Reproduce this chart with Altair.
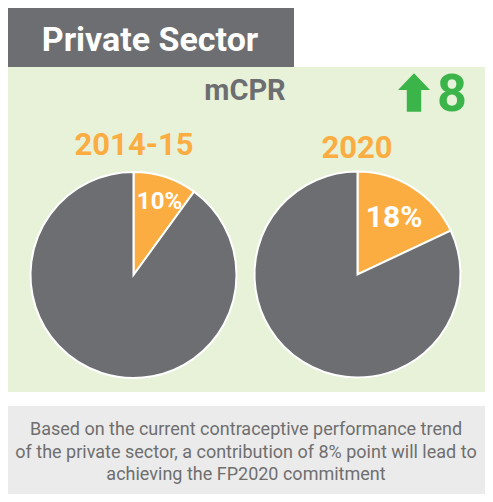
import altair as alt
import pandas as pd

# ---- data ----
years = ["2014-15", "2020"]
private_share = [10, 18]
segments = ["Private sector", "Other"]
title_text = "Private Sector"
indicator = "mCPR"
change = 8
note_lines = [
    "Based on the current contraceptive performance trend",
    "of the private sector, a contribution of 8% point will lead to",
    "achieving the FP2020 commitment",
]

# ---- style ----
W, H = 477, 486
OFF = 8
FONT = "Roboto"
ORANGE = "#fbad41"
GRAY = "#6d6e71"
GREEN = "#3bb54a"
PANEL = "#e8f2d9"
NOTEBG = "#ebebeb"
NOTETXT = "#6f6f6f"

one = pd.DataFrame({"k": [0]})


def rect(x1, y1, x2, y2, color):
    return alt.Chart(one).mark_rect(color=color).encode(
        x=alt.value(x1 - OFF), x2=alt.value(x2 - OFF),
        y=alt.value(y1 - OFF), y2=alt.value(y2 - OFF))


def label(text, x, y, size, color, weight="bold", baseline="middle"):
    return alt.Chart(one).mark_text(
        text=text, font=FONT, fontSize=size, fontWeight=weight, color=color,
        align="center", baseline=baseline).encode(
        x=alt.value(x - OFF), y=alt.value(y - OFF))


def pie(i, cx, cy, lx, ly, lsize):
    df = pd.DataFrame({
        "seg": segments,
        "value": [private_share[i], 100 - private_share[i]],
        "o": [0, 1],
    })
    arc = alt.Chart(df).mark_arc(radius=103, stroke="white", strokeWidth=2).encode(
        theta=alt.Theta("value:Q", stack=True),
        color=alt.Color("seg:N", scale=alt.Scale(domain=segments, range=[ORANGE, GRAY]), legend=None),
        order=alt.Order("o:Q"),
        x=alt.value(cx - OFF), y=alt.value(cy - OFF),
    )
    lab_df = pd.DataFrame({"label": [f"{private_share[i]}%"]})
    lab = alt.Chart(lab_df).mark_text(
        font=FONT, fontSize=lsize, fontWeight="bold", color="white",
        align="center", baseline="middle").encode(
        text="label:N", x=alt.value(lx - OFF), y=alt.value(ly - OFF))
    return arc + lab


arrow = alt.Chart(one).mark_point(
    shape="M0,-1.2L1,-0.15L0.45,-0.15L0.45,1.2L-0.45,1.2L-0.45,-0.15L-1,-0.15Z",
    size=1024, filled=True, color=GREEN, opacity=1, strokeWidth=0).encode(
    x=alt.value(414 - OFF), y=alt.value(92.5 - OFF))

layers = [
    rect(5, 8, 294, 67, GRAY),
    rect(5, 67, 486, 392, PANEL),
    rect(5, 406, 486, 510, NOTEBG),
    label(title_text, 150, 41, 34, "white"),
    label(indicator, 245, 91, 29, GRAY),
    arrow,
    label(str(change), 452, 95, 52, GREEN),
    label(years[0], 134, 146, 31, ORANGE),
    label(years[1], 357, 149, 31, ORANGE),
    pie(0, 133.5, 275, 159.5, 202, 24),
    pie(1, 357.5, 274.5, 394, 218, 30),
]
note_baselines = [435, 458, 480]
for j, line in enumerate(note_lines):
    layers.append(label(line, 246, note_baselines[j], 18, NOTETXT,
                        weight="normal", baseline="alphabetic"))

chart = alt.layer(*layers).properties(
    width=W, height=H, autosize="none", padding=0, background="white"
).configure_view(stroke=None)

chart.save("out.html", embed_options={"renderer": "svg", "actions": False})
